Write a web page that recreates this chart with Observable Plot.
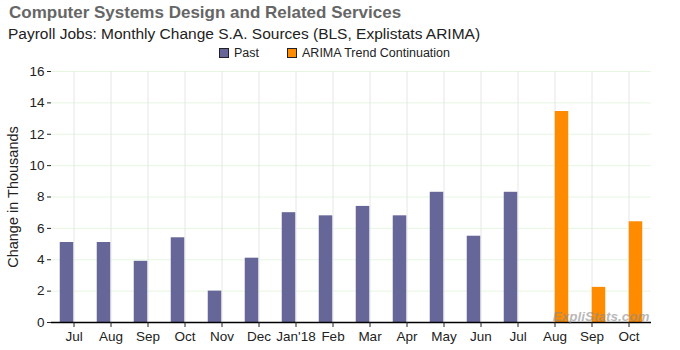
<!DOCTYPE html>
<html>
<head>
<meta charset="utf-8">
<script src="https://cdn.jsdelivr.net/npm/d3@7"></script>
<script src="https://cdn.jsdelivr.net/npm/@observablehq/plot@0.6"></script>
<style>
  body { margin: 0; background: #fff; font-family: "Liberation Sans", Arial, sans-serif; }
  #wrap { position: relative; width: 680px; height: 350px; overflow: hidden; }
  #title { position: absolute; left: 9px; top: 3px; font-size: 17px; font-weight: bold; color: #666; white-space: nowrap; }
  #subtitle { position: absolute; left: 8px; top: 25px; font-size: 15.5px; color: #222; white-space: nowrap; }
  #legend { position: absolute; left: 219px; top: 46px; font-size: 12.5px; color: #222; white-space: nowrap; display: flex; align-items: center; }
  .sw { display: inline-block; width: 8px; height: 8px; border: 1px solid #222; margin-right: 5px; }
  .item { display: inline-flex; align-items: center; margin-right: 28px; }
  #chart { position: absolute; left: 0; top: 60px; }
</style>
</head>
<body>
<div id="wrap">
  <div id="title">Computer Systems Design and Related Services</div>
  <div id="subtitle">Payroll Jobs: Monthly Change S.A. Sources (BLS, Explistats ARIMA)</div>
  <div id="legend"></div>
  <div id="chart"></div>
</div>
<script>
const periods = ["2017-07","2017-08","2017-09","2017-10","2017-11","2017-12","2018-01","2018-02","2018-03","2018-04","2018-05","2018-06","2018-07","2018-08","2018-09","2018-10"];
const tickLabels = ["Jul","Aug","Sep","Oct","Nov","Dec","Jan'18","Feb","Mar","Apr","May","Jun","Jul","Aug","Sep","Oct"];
const pastPeriods = periods.slice(0, 13);
const pastValues = [5.1, 5.1, 3.9, 5.4, 2.0, 4.1, 7.0, 6.8, 7.4, 6.8, 8.3, 5.5, 8.3];
const arimaPeriods = periods.slice(13);
const arimaValues = [13.45, 2.24, 6.42];
const seriesNames = ["Past", "ARIMA Trend Continuation"];
const seriesColors = ["#666699", "#ff8c00"];
const yTicks = [0, 2, 4, 6, 8, 10, 12, 14, 16];

const past = pastPeriods.map((p, i) => ({period: p, value: pastValues[i]}));
const arima = arimaPeriods.map((p, i) => ({period: p, value: arimaValues[i]}));
const labelOf = new Map(periods.map((p, i) => [p, tickLabels[i]]));

const legend = document.getElementById("legend");
seriesNames.forEach((n, i) => {
  const it = document.createElement("span");
  it.className = "item";
  it.innerHTML = `<span class="sw" style="background:${seriesColors[i]}"></span>${n}`;
  legend.appendChild(it);
});

const chart = Plot.plot({
  width: 680,
  height: 290,
  marginTop: 11,
  marginLeft: 51,
  marginRight: 29,
  marginBottom: 28,
  style: {fontFamily: "'Liberation Sans', Arial, sans-serif", fontSize: "13.5px", color: "#222", background: "#fff"},
  x: {type: "band", domain: periods, padding: 0, label: null},
  y: {domain: [0, 16], label: null},
  marks: [
    Plot.gridY(yTicks, {stroke: "#e6f7e0", strokeOpacity: 1}),
    Plot.gridX(periods, {stroke: "#e6e6e6", strokeOpacity: 1}),
    Plot.barY(past, {x: "period", y: "value", fill: seriesColors[0], insetLeft: 4.75, insetRight: 18.75}),
    Plot.barY(arima, {x: "period", y: "value", fill: seriesColors[1], insetLeft: 18.75, insetRight: 4.75}),
    Plot.ruleY([0], {stroke: "#000", strokeWidth: 1.5}),
    Plot.axisY({ticks: yTicks, tickSize: 4, tickPadding: 3, label: null, fontSize: 13.5}),
    Plot.axisX({tickSize: 5, tickPadding: 4, tickFormat: d => labelOf.get(d), label: null, fontSize: 13.5}),
    Plot.text(["Change in Thousands"], {frameAnchor: "left", textAnchor: "middle", rotate: -90, dx: -38, fontSize: 14.5, fill: "#222"}),
    Plot.text(["ExpliStats.com"], {frameAnchor: "bottom-right", textAnchor: "end", lineAnchor: "bottom", dx: -2, dy: -2, fontSize: 13.5, fontWeight: "bold", fontStyle: "italic", fill: "#8a8a8a", fillOpacity: 0.6})
  ]
});
document.getElementById("chart").appendChild(chart);
</script>
</body>
</html>
